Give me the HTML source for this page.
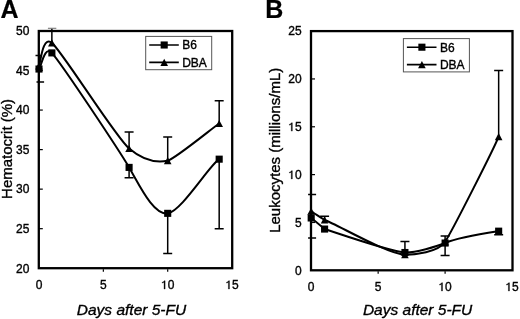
<!DOCTYPE html>
<html><head><meta charset="utf-8"><style>
html,body{margin:0;padding:0;background:#fff;}
svg{display:block}
text{font-family:"Liberation Sans",sans-serif;fill:#000;stroke:#000;stroke-width:0.35px}
.tk{font-size:12px}
.lg{font-size:12px}
.let{font-size:25px;font-weight:bold;stroke-width:0.2px}
.ax{font-size:15px}
.it{font-style:italic;font-size:15.5px}
</style></head><body>
<svg width="520" height="319" viewBox="0 0 520 319" style="filter:grayscale(1)">
<rect width="520" height="319" fill="#fff"/>
<g stroke="#000" stroke-width="1.2" fill="none">
<path d="M38.80,228.68 h4"/>
<path d="M38.80,189.14 h4"/>
<path d="M38.80,149.61 h4"/>
<path d="M38.80,110.07 h4"/>
<path d="M38.80,70.53 h4"/>
<path d="M103.35,269.20 v2.5"/>
<path d="M167.70,269.20 v2.5"/>
</g>
<g stroke="#000" stroke-width="1.50" fill="none">
<path d="M39.00,55.50 V65.79 M35.50,55.50 h6.00"/>
<path d="M39.00,69.03 V81.90 M36.50,81.90 h7.60"/>
<path d="M51.87,28.50 V42.86"/>
<path d="M47.9,28.3 h8.4" stroke="#777" stroke-width="1.1"/>
<path d="M129.09,131.90 V148.50 M124.59,131.90 h9.00"/>
<path d="M129.09,167.40 V177.80 M124.59,177.80 h9.00"/>
<path d="M167.70,137.00 V160.67 M163.20,137.00 h9.00"/>
<path d="M167.70,213.34 V253.60 M163.20,253.60 h9.00"/>
<path d="M219.18,100.70 V123.51 M214.68,100.70 h9.00"/>
<path d="M219.18,159.17 V228.70 M214.68,228.70 h9.00"/>
</g>
<g stroke="#000" stroke-width="2.00" fill="none">
<path d="M39.00,69.03 C41.35,66.30 44.75,44.77 51.87,52.90 C62.58,65.12 119.42,150.95 129.09,167.40 C139.54,185.18 153.27,215.14 167.70,213.34 C181.22,211.64 209.42,165.09 219.18,159.17"/>
<path d="M39.00,65.79 C40.69,62.89 42.31,35.13 51.87,42.86 C62.00,51.05 115.30,136.83 129.09,148.50 C143.53,160.72 155.30,163.24 167.70,160.67 C174.66,159.23 214.37,126.52 219.18,123.51"/>
</g>
<g fill="#000">
<rect x="35.45" y="65.48" width="7.10" height="7.10"/>
<rect x="48.32" y="49.35" width="7.10" height="7.10"/>
<rect x="125.54" y="163.85" width="7.10" height="7.10"/>
<rect x="164.15" y="209.79" width="7.10" height="7.10"/>
<rect x="215.63" y="155.62" width="7.10" height="7.10"/>
<path d="M39.00,62.19 L42.80,69.39 L35.20,69.39 Z"/>
<path d="M51.87,39.26 L55.67,46.46 L48.07,46.46 Z"/>
<path d="M129.09,144.90 L132.89,152.10 L125.29,152.10 Z"/>
<path d="M167.70,157.07 L171.50,164.27 L163.90,164.27 Z"/>
<path d="M219.18,119.91 L222.98,127.11 L215.38,127.11 Z"/>
</g>
<rect x="38.80" y="31.00" width="193.40" height="237.20" fill="none" stroke="#000" stroke-width="2.30"/>
<rect x="145.70" y="36.40" width="66.00" height="33.30" fill="none" stroke="#555" stroke-width="1"/>
<g stroke="#000" stroke-width="1.6"><path d="M149.20,45.00 h29.6 M149.20,62.40 h29.6"/></g>
<g fill="#000"><rect x="160.65" y="41.45" width="7.10" height="7.10"/><path d="M164.20,58.80 L168.00,66.00 L160.40,66.00 Z"/></g>
<text x="182.20" y="49.30" class="lg">B6</text>
<text x="182.20" y="66.70" class="lg">DBA</text>
<text x="15.95" y="272.51" class="tk">2</text><text x="22.63" y="272.51" class="tk">0</text>
<text x="15.95" y="232.98" class="tk">2</text><text x="22.63" y="232.98" class="tk">5</text>
<text x="15.95" y="193.44" class="tk">3</text><text x="22.63" y="193.44" class="tk">0</text>
<text x="15.95" y="153.91" class="tk">3</text><text x="22.63" y="153.91" class="tk">5</text>
<text x="15.95" y="114.37" class="tk">4</text><text x="22.63" y="114.37" class="tk">0</text>
<text x="15.95" y="74.83" class="tk">4</text><text x="22.63" y="74.83" class="tk">5</text>
<text x="15.95" y="35.30" class="tk">5</text><text x="22.63" y="35.30" class="tk">0</text>
<text x="35.66" y="289.00" class="tk">0</text>
<text x="100.01" y="289.00" class="tk">5</text>
<path transform="translate(161.03,289.00) scale(0.005859,-0.005859)" d="M515,0 L696,0 L696,1409 L552,1409 C500,1300 380,1200 197,1150 L197,1010 C330,1050 440,1120 515,1200 Z" fill="#000" stroke="#000" stroke-width="59.7"/><text x="167.70" y="289.00" class="tk">0</text>
<path transform="translate(225.38,289.00) scale(0.005859,-0.005859)" d="M515,0 L696,0 L696,1409 L552,1409 C500,1300 380,1200 197,1150 L197,1010 C330,1050 440,1120 515,1200 Z" fill="#000" stroke="#000" stroke-width="59.7"/><text x="232.05" y="289.00" class="tk">5</text>
<text x="0.40" y="18.20" class="let">A</text>
<text transform="translate(12.00,148.90) rotate(-90)" class="ax" text-anchor="middle">Hematocrit (%)</text>
<text x="131.50" y="314.50" class="ax it" text-anchor="middle">Days after 5-FU</text>
<g stroke="#000" stroke-width="1.2" fill="none">
<path d="M311.00,222.46 h4"/>
<path d="M311.00,174.62 h4"/>
<path d="M311.00,126.78 h4"/>
<path d="M311.00,78.94 h4"/>
<path d="M378.15,271.30 v2.5"/>
<path d="M445.10,271.30 v2.5"/>
</g>
<g stroke="#000" stroke-width="1.50" fill="none">
<path d="M311.20,194.50 V211.27 M308.10,194.50 h8.00"/>
<path d="M311.20,217.96 V238.00 M308.10,238.00 h8.00"/>
<path d="M324.59,216.20 V219.97 M320.09,216.20 h9.00"/>
<path d="M404.93,241.40 V252.50 M400.43,241.40 h9.00"/>
<path d="M445.10,236.00 V241.79 M440.60,236.00 h9.00"/>
<path d="M445.10,243.03 V255.50 M440.60,255.50 h9.00"/>
<path d="M498.66,70.40 V136.54 M494.16,70.40 h9.00"/>
<path d="M498.66,231.17 V234.80 M494.16,234.80 h9.00"/>
</g>
<g stroke="#000" stroke-width="2.00" fill="none">
<path d="M311.20,217.96 C313.23,219.37 324.59,229.06 324.59,229.06 C337.17,233.05 390.97,251.88 404.93,252.50 C414.87,252.95 437.11,246.40 445.10,243.03 C459.16,237.10 492.41,232.14 498.66,231.17"/>
<path d="M311.20,211.27 C312.53,212.08 324.20,219.84 324.59,219.97 C335.69,223.61 387.20,254.18 404.93,254.70 C414.11,254.97 438.44,252.29 445.10,241.79 C453.25,228.93 494.88,146.50 498.66,136.54"/>
</g>
<g fill="#000">
<rect x="307.65" y="214.41" width="7.10" height="7.10"/>
<rect x="321.04" y="225.51" width="7.10" height="7.10"/>
<rect x="401.38" y="248.95" width="7.10" height="7.10"/>
<rect x="441.55" y="239.48" width="7.10" height="7.10"/>
<rect x="495.11" y="227.62" width="7.10" height="7.10"/>
<path d="M311.20,207.67 L315.00,214.87 L307.40,214.87 Z"/>
<path d="M324.59,216.37 L328.39,223.57 L320.79,223.57 Z"/>
<path d="M404.93,251.10 L408.73,258.30 L401.13,258.30 Z"/>
<path d="M445.10,238.19 L448.90,245.39 L441.30,245.39 Z"/>
<path d="M498.66,132.94 L502.46,140.14 L494.86,140.14 Z"/>
</g>
<rect x="311.00" y="31.10" width="201.50" height="239.20" fill="none" stroke="#000" stroke-width="2.30"/>
<rect x="403.40" y="38.60" width="66.00" height="33.30" fill="none" stroke="#555" stroke-width="1"/>
<g stroke="#000" stroke-width="1.6"><path d="M406.90,47.20 h29.6 M406.90,64.60 h29.6"/></g>
<g fill="#000"><rect x="418.35" y="43.65" width="7.10" height="7.10"/><path d="M421.90,61.00 L425.70,68.20 L418.10,68.20 Z"/></g>
<text x="439.90" y="51.50" class="lg">B6</text>
<text x="439.90" y="68.90" class="lg">DBA</text>
<text x="294.93" y="274.60" class="tk">0</text>
<text x="294.93" y="226.76" class="tk">5</text>
<path transform="translate(288.25,178.92) scale(0.005859,-0.005859)" d="M515,0 L696,0 L696,1409 L552,1409 C500,1300 380,1200 197,1150 L197,1010 C330,1050 440,1120 515,1200 Z" fill="#000" stroke="#000" stroke-width="59.7"/><text x="294.93" y="178.92" class="tk">0</text>
<path transform="translate(288.25,131.08) scale(0.005859,-0.005859)" d="M515,0 L696,0 L696,1409 L552,1409 C500,1300 380,1200 197,1150 L197,1010 C330,1050 440,1120 515,1200 Z" fill="#000" stroke="#000" stroke-width="59.7"/><text x="294.93" y="131.08" class="tk">5</text>
<text x="288.25" y="83.24" class="tk">2</text><text x="294.93" y="83.24" class="tk">0</text>
<text x="288.25" y="35.40" class="tk">2</text><text x="294.93" y="35.40" class="tk">5</text>
<text x="307.86" y="291.00" class="tk">0</text>
<text x="374.81" y="291.00" class="tk">5</text>
<path transform="translate(438.43,291.00) scale(0.005859,-0.005859)" d="M515,0 L696,0 L696,1409 L552,1409 C500,1300 380,1200 197,1150 L197,1010 C330,1050 440,1120 515,1200 Z" fill="#000" stroke="#000" stroke-width="59.7"/><text x="445.10" y="291.00" class="tk">0</text>
<path transform="translate(505.38,291.00) scale(0.005859,-0.005859)" d="M515,0 L696,0 L696,1409 L552,1409 C500,1300 380,1200 197,1150 L197,1010 C330,1050 440,1120 515,1200 Z" fill="#000" stroke="#000" stroke-width="59.7"/><text x="512.05" y="291.00" class="tk">5</text>
<text x="265.20" y="18.20" class="let">B</text>
<text transform="translate(280.00,150.30) rotate(-90)" class="ax" text-anchor="middle">Leukocytes (millions/mL)</text>
<text x="417.60" y="315.00" class="ax it" text-anchor="middle">Days after 5-FU</text>
</svg>
</body></html>
